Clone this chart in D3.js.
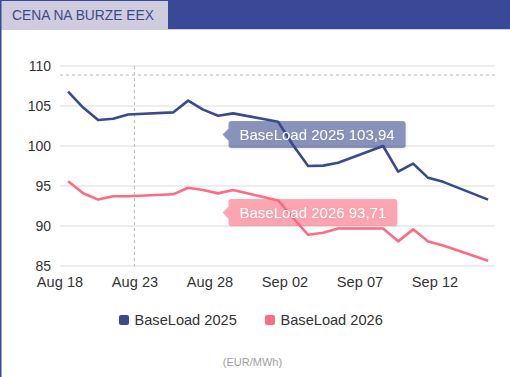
<!DOCTYPE html>
<html>
<head>
<meta charset="utf-8">
<script src="https://cdn.jsdelivr.net/npm/d3@7"></script>
<style>
  html, body { margin: 0; padding: 0; background: #fff; }
  svg { display: block; font-family: "Liberation Sans", Arial, sans-serif; }
</style>
</head>
<body>
<div id="chart"></div>
<script>
// Trading days (weekends skipped)
const dates = [
  '2025-08-18', '2025-08-19', '2025-08-20', '2025-08-21', '2025-08-22',
  '2025-08-25', '2025-08-26', '2025-08-27', '2025-08-28', '2025-08-29',
  '2025-09-01', '2025-09-02', '2025-09-03', '2025-09-04', '2025-09-05',
  '2025-09-08', '2025-09-09', '2025-09-10', '2025-09-11', '2025-09-12',
  '2025-09-15'
];

const base2025 = [
  106.8, 104.8, 103.25, 103.4, 103.94,
  104.2, 105.67, 104.55, 103.78, 104.08,
  103.04, 100.1, 97.5, 97.55, 97.9,
  100.0, 96.8, 97.8, 96.02, 95.52,
  93.3
];

const base2026 = [
  95.6, 94.1, 93.3, 93.72, 93.71,
  93.96, 94.78, 94.5, 94.08, 94.5,
  93.2, 91.0, 88.9, 89.15, 89.68,
  89.68, 88.08, 89.58, 88.06, 87.56,
  85.66
];

const seriesNames = ['BaseLoad 2025', 'BaseLoad 2026'];
const seriesColors = ['#3a4a8e', '#ff6b80'];

const yTicks = [85, 90, 95, 100, 105, 110];
const xTickLabels = ['2025-08-18', '2025-08-23', '2025-08-28', '2025-09-02', '2025-09-07', '2025-09-12'];
const xDomain = ['2025-08-18', '2025-09-16'];

const title = 'CENA NA BURZE EEX';
const unit = '(EUR/MWh)';

// hovered point shown in the tooltips
const hoverIndex = 4;
const hoverValueY = 108.875;

const width = 510, height = 377;
const margin = { top: 66, right: 15, bottom: 111, left: 60 };

const parseDay = d3.timeParse('%Y-%m-%d');
const fmtTick = d3.timeFormat('%b %d');
const fmtNum = v => v.toFixed(2).replace('.', ',');

// points sit a little after midnight of their day
const pointDate = s => d3.timeHour.offset(parseDay(s), 13);

const svg = d3.select('#chart')
  .append('svg')
  .attr('width', width)
  .attr('height', height);

const defs = svg.append('defs');
const shadow = defs.append('filter').attr('id', 'shadow')
  .attr('x', '-10%').attr('y', '-20%').attr('width', '130%').attr('height', '160%');
shadow.append('feDropShadow')
  .attr('dx', 1).attr('dy', 1).attr('stdDeviation', 1)
  .attr('flood-color', '#000').attr('flood-opacity', 0.15);

// Header band
svg.append('rect')
  .attr('x', 0).attr('y', 0).attr('width', width).attr('height', 29)
  .attr('fill', '#394897');
svg.append('rect')
  .attr('x', 0).attr('y', 29).attr('width', width).attr('height', 1)
  .attr('fill', '#cfcbe0');
svg.append('rect')
  .attr('x', 1).attr('y', 1).attr('width', 167).attr('height', 29)
  .attr('fill', '#d0cce0');
svg.append('text')
  .attr('x', 12).attr('y', 20)
  .attr('fill', '#3d4a8a')
  .style('font-size', '13.8px')
  .text(title);

// Left border
svg.append('rect')
  .attr('x', 0).attr('y', 0).attr('width', 1.5).attr('height', height)
  .attr('fill', '#394897');

const x = d3.scaleTime()
  .domain(xDomain.map(parseDay))
  .range([margin.left, width - margin.right]);

const y = d3.scaleLinear()
  .domain([85, 110])
  .range([height - margin.bottom, margin.top]);

// Grid
svg.append('g')
  .selectAll('line')
  .data(yTicks)
  .enter()
  .append('line')
  .attr('x1', x.range()[0])
  .attr('x2', x.range()[1])
  .attr('y1', d => y(d))
  .attr('y2', d => y(d))
  .attr('stroke', '#dcdcdc')
  .attr('stroke-width', 1);

// Y labels
svg.append('g')
  .selectAll('text')
  .data(yTicks)
  .enter()
  .append('text')
  .attr('x', 51)
  .attr('y', d => y(d))
  .attr('dy', '0.35em')
  .attr('text-anchor', 'end')
  .attr('fill', '#333')
  .style('font-size', '14px')
  .text(d => d);

// X labels
svg.append('g')
  .selectAll('text')
  .data(xTickLabels)
  .enter()
  .append('text')
  .attr('x', d => x(parseDay(d)))
  .attr('y', y(85) + 21)
  .attr('text-anchor', 'middle')
  .attr('fill', '#333')
  .style('font-size', '14.6px')
  .text(d => fmtTick(parseDay(d)));

// Crosshairs
const hoverX = x(d3.timeHour.offset(parseDay(dates[hoverIndex]), 23));
svg.append('line')
  .attr('x1', hoverX).attr('x2', hoverX)
  .attr('y1', y(110)).attr('y2', y(85))
  .attr('stroke', '#b8b8b8')
  .attr('stroke-dasharray', '3,3');
svg.append('line')
  .attr('x1', x.range()[0]).attr('x2', x.range()[1])
  .attr('y1', y(hoverValueY)).attr('y2', y(hoverValueY))
  .attr('stroke', '#b8b8b8')
  .attr('stroke-dasharray', '3,3');

// Lines
const series = [base2025, base2026];
const line = d3.line()
  .x((d, i) => x(pointDate(dates[i])))
  .y(d => y(d));

svg.append('g')
  .selectAll('path')
  .data(series)
  .enter()
  .append('path')
  .attr('d', d => line(d))
  .attr('fill', 'none')
  .attr('stroke', (d, i) => seriesColors[i])
  .attr('stroke-width', 2.6)
  .attr('stroke-linejoin', 'round');

// Tooltips
const tipTops = [121, 199];
const tipLeft = 228.5;
series.forEach((s, i) => {
  const g = svg.append('g').attr('filter', 'url(#shadow)');
  const label = `${seriesNames[i]} ${fmtNum(s[hoverIndex])}`;
  const txt = g.append('text')
    .attr('x', tipLeft + 11)
    .attr('y', tipTops[i] + 19)
    .attr('fill', '#fff')
    .style('font-size', '15px')
    .text(label);
  const w = txt.node().getComputedTextLength() + 22;
  const h = 27;
  const t = tipTops[i];
  const r = 3;
  const ay = t + h / 2;
  const path = d3.path();
  path.moveTo(tipLeft + r, t);
  path.lineTo(tipLeft + w - r, t);
  path.arcTo(tipLeft + w, t, tipLeft + w, t + r, r);
  path.lineTo(tipLeft + w, t + h - r);
  path.arcTo(tipLeft + w, t + h, tipLeft + w - r, t + h, r);
  path.lineTo(tipLeft + r, t + h);
  path.arcTo(tipLeft, t + h, tipLeft, t + h - r, r);
  path.lineTo(tipLeft, ay + 6);
  path.lineTo(tipLeft - 6, ay);
  path.lineTo(tipLeft, ay - 6);
  path.lineTo(tipLeft, t + r);
  path.arcTo(tipLeft, t, tipLeft + r, t, r);
  path.closePath();
  g.insert('path', 'text')
    .attr('d', path.toString())
    .attr('fill', seriesColors[i])
    .attr('fill-opacity', 0.56);
});

// Legend
const legendX = [119, 265];
const legend = svg.append('g')
  .selectAll('g')
  .data(seriesNames)
  .enter()
  .append('g')
  .attr('transform', (d, i) => `translate(${legendX[i]}, 315)`);

legend.append('rect')
  .attr('width', 10).attr('height', 10)
  .attr('rx', 2)
  .attr('fill', (d, i) => seriesColors[i]);

legend.append('text')
  .attr('x', 15.5)
  .attr('y', 9.5)
  .attr('fill', '#333')
  .style('font-size', '14.6px')
  .text(d => d);

// Unit
svg.append('text')
  .attr('x', 252.5)
  .attr('y', 366)
  .attr('text-anchor', 'middle')
  .attr('fill', '#a0a0a0')
  .style('font-size', '11px')
  .text(unit);
</script>
</body>
</html>
